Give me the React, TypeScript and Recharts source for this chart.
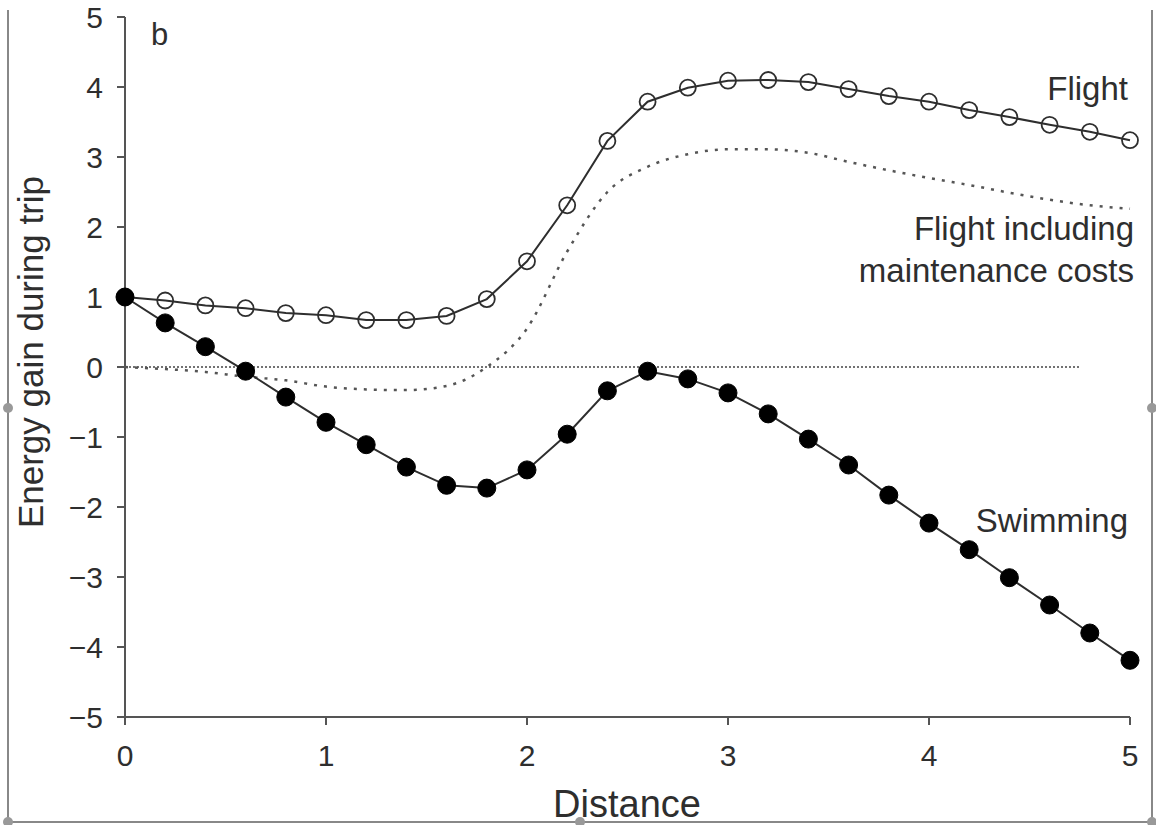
import { LineChart, Line, XAxis, YAxis, ReferenceLine } from 'recharts'

const distance = [0, 0.2, 0.4, 0.6, 0.8, 1, 1.2, 1.4, 1.6, 1.8, 2, 2.2, 2.4, 2.6, 2.8, 3, 3.2, 3.4, 3.6, 3.8, 4, 4.2, 4.4, 4.6, 4.8, 5]
const flight = [1.0, 0.95, 0.88, 0.84, 0.77, 0.74, 0.67, 0.67, 0.73, 0.97, 1.51, 2.31, 3.23, 3.79, 3.99, 4.09, 4.1, 4.07, 3.97, 3.87, 3.79, 3.67, 3.57, 3.46, 3.36, 3.24]
const swimming = [1.0, 0.63, 0.29, -0.06, -0.43, -0.79, -1.11, -1.43, -1.69, -1.73, -1.47, -0.96, -0.34, -0.06, -0.17, -0.37, -0.67, -1.03, -1.4, -1.83, -2.23, -2.61, -3.01, -3.4, -3.8, -4.19]
const maintenance = [0, -0.03, -0.07, -0.14, -0.19, -0.28, -0.32, -0.33, -0.27, 0.0, 0.55, 1.65, 2.5, 2.86, 3.04, 3.11, 3.11, 3.06, 2.93, 2.81, 2.7, 2.6, 2.49, 2.39, 2.31, 2.26]

const xTicks = [0, 1, 2, 3, 4, 5]
const yTicks = [-5, -4, -3, -2, -1, 0, 1, 2, 3, 4, 5]
const zeroLineEnd = 4.75

const FONT = '"Liberation Sans", Arial, Helvetica, sans-serif'
const INK = '#2e2e2e'

const data = distance.map((d, i) => ({
  distance: d,
  flight: flight[i],
  swimming: swimming[i],
  maintenance: maintenance[i],
}))

export default function App() {
  return (
    <div style={{ position: 'absolute', left: 0, top: 0, width: 1156, height: 825, background: '#fff', fontFamily: FONT }}>
      <LineChart width={1156} height={825} data={data} margin={{ top: 17, right: 26, bottom: 48, left: 65 }}>
        <XAxis
          dataKey="distance"
          type="number"
          domain={[0, 5]}
          ticks={xTicks}
          height={60}
          tickSize={8}
          tickMargin={20}
          axisLine={{ stroke: '#555', strokeWidth: 2 }}
          tickLine={{ stroke: '#555', strokeWidth: 2 }}
          tick={{ fontSize: 30, fill: INK, fontFamily: FONT }}
        />
        <YAxis
          type="number"
          domain={[-5, 5]}
          ticks={yTicks}
          width={60}
          tickSize={8}
          tickMargin={14}
          interval={0}
          axisLine={{ stroke: '#555', strokeWidth: 2 }}
          tickLine={{ stroke: '#555', strokeWidth: 2 }}
          tick={{ fontSize: 30, fill: INK, fontFamily: FONT }}
          tickFormatter={(v: number) => String(v).replace('-', '\u2212')}
        />
        <ReferenceLine
          segment={[{ x: 0, y: 0 }, { x: zeroLineEnd, y: 0 }]}
          stroke="#444"
          strokeWidth={1.3}
          strokeDasharray="2 2"
        />
        <Line
          dataKey="maintenance"
          type="monotone"
          stroke="#555"
          strokeWidth={2.5}
          strokeDasharray="3 7"
          dot={false}
          isAnimationActive={false}
        />
        <Line
          dataKey="flight"
          type="linear"
          stroke={INK}
          strokeWidth={2}
          dot={{ r: 8, fill: 'none', stroke: INK, strokeWidth: 1.8 }}
          isAnimationActive={false}
        />
        <Line
          dataKey="swimming"
          type="linear"
          stroke={INK}
          strokeWidth={2}
          dot={{ r: 9, fill: '#000', stroke: '#000', strokeWidth: 1 }}
          isAnimationActive={false}
        />
      </LineChart>
      <svg width={1156} height={825} style={{ position: 'absolute', left: 0, top: 0, pointerEvents: 'none' }}>
        <g fill={INK} fontFamily={FONT}>
          <text x={151} y={45} fontSize={31}>b</text>
          <text x={1128} y={100} fontSize={33} textAnchor="end">Flight</text>
          <text x={1134} y={240} fontSize={33} textAnchor="end">Flight including</text>
          <text x={1134} y={282} fontSize={33} textAnchor="end">maintenance costs</text>
          <text x={1128} y={532} fontSize={33} textAnchor="end">Swimming</text>
          <text x={627} y={817} fontSize={38} textAnchor="middle">Distance</text>
          <text x={43} y={352} fontSize={35} textAnchor="middle" transform="rotate(-90 43 352)">Energy gain during trip</text>
        </g>
        <g stroke="#888" strokeWidth={2}>
          <line x1={8} y1={10} x2={8} y2={822} />
          <line x1={8} y1={822} x2={1152} y2={822} />
          <line x1={1152} y1={10} x2={1152} y2={822} />
        </g>
        <g fill="#999">
          <circle cx={8} cy={408} r={5} />
          <circle cx={1152} cy={408} r={5} />
          <circle cx={580} cy={822} r={5} />
          <circle cx={8} cy={822} r={5} />
          <circle cx={1152} cy={822} r={5} />
        </g>
      </svg>
    </div>
  )
}
